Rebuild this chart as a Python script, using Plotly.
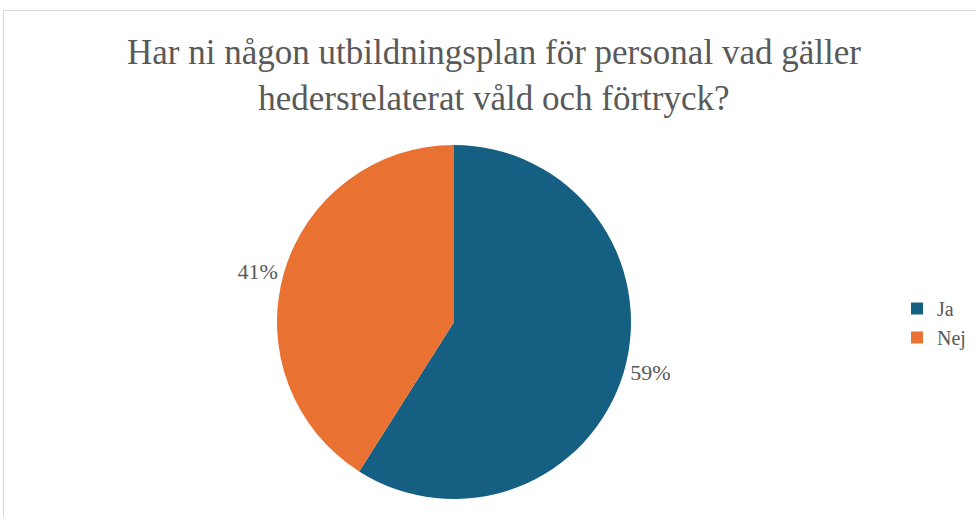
import plotly.graph_objects as go

labels = ["Ja", "Nej"]
values = [59, 41]
colors = ["#156082", "#E97132"]
title_text = "Har ni någon utbildningsplan för personal vad gäller<br>hedersrelaterat våld och förtryck?"

W, H = 976, 517
cx, cy, r = 454, 322, 177

fig = go.Figure(go.Pie(
    labels=labels,
    values=values,
    marker=dict(colors=colors, line=dict(width=0)),
    sort=False,
    direction="clockwise",
    rotation=0,
    textinfo="percent",
    textposition="outside",
    outsidetextfont=dict(family="Liberation Serif", size=22, color="#595959"),
    showlegend=True,
    domain=dict(x=[(cx - r) / W, (cx + r) / W], y=[(H - cy - r) / H, (H - cy + r) / H]),
    automargin=False,
))

fig.update_layout(
    width=W, height=H,
    margin=dict(l=0, r=0, t=0, b=0),
    paper_bgcolor="white",
    plot_bgcolor="white",
    font=dict(family="Liberation Serif", color="#595959"),
    legend=dict(
        x=897 / W, y=(H - 323) / H, xanchor="left", yanchor="middle",
        font=dict(family="Liberation Serif", size=20, color="#595959"),
        itemwidth=30,
        tracegroupgap=0,
    ),
    annotations=[dict(
        text=title_text, x=494 / W, y=(H - 75) / H, xref="paper", yref="paper",
        xanchor="center", yanchor="middle", showarrow=False,
        font=dict(family="Liberation Serif", size=35, color="#595959"),
    )],
    shapes=[dict(
        type="rect", xref="paper", yref="paper",
        x0=3.5 / W, x1=1.05, y0=-0.05, y1=(H - 10.5) / H,
        line=dict(color="#D9D9D9", width=1), fillcolor="rgba(0,0,0,0)", layer="below",
    )],
)

fig.write_html(
    "out.html",
    config={"displayModeBar": False},
    post_script="document.body.style.margin='0px';document.body.style.overflow='hidden';",
)
